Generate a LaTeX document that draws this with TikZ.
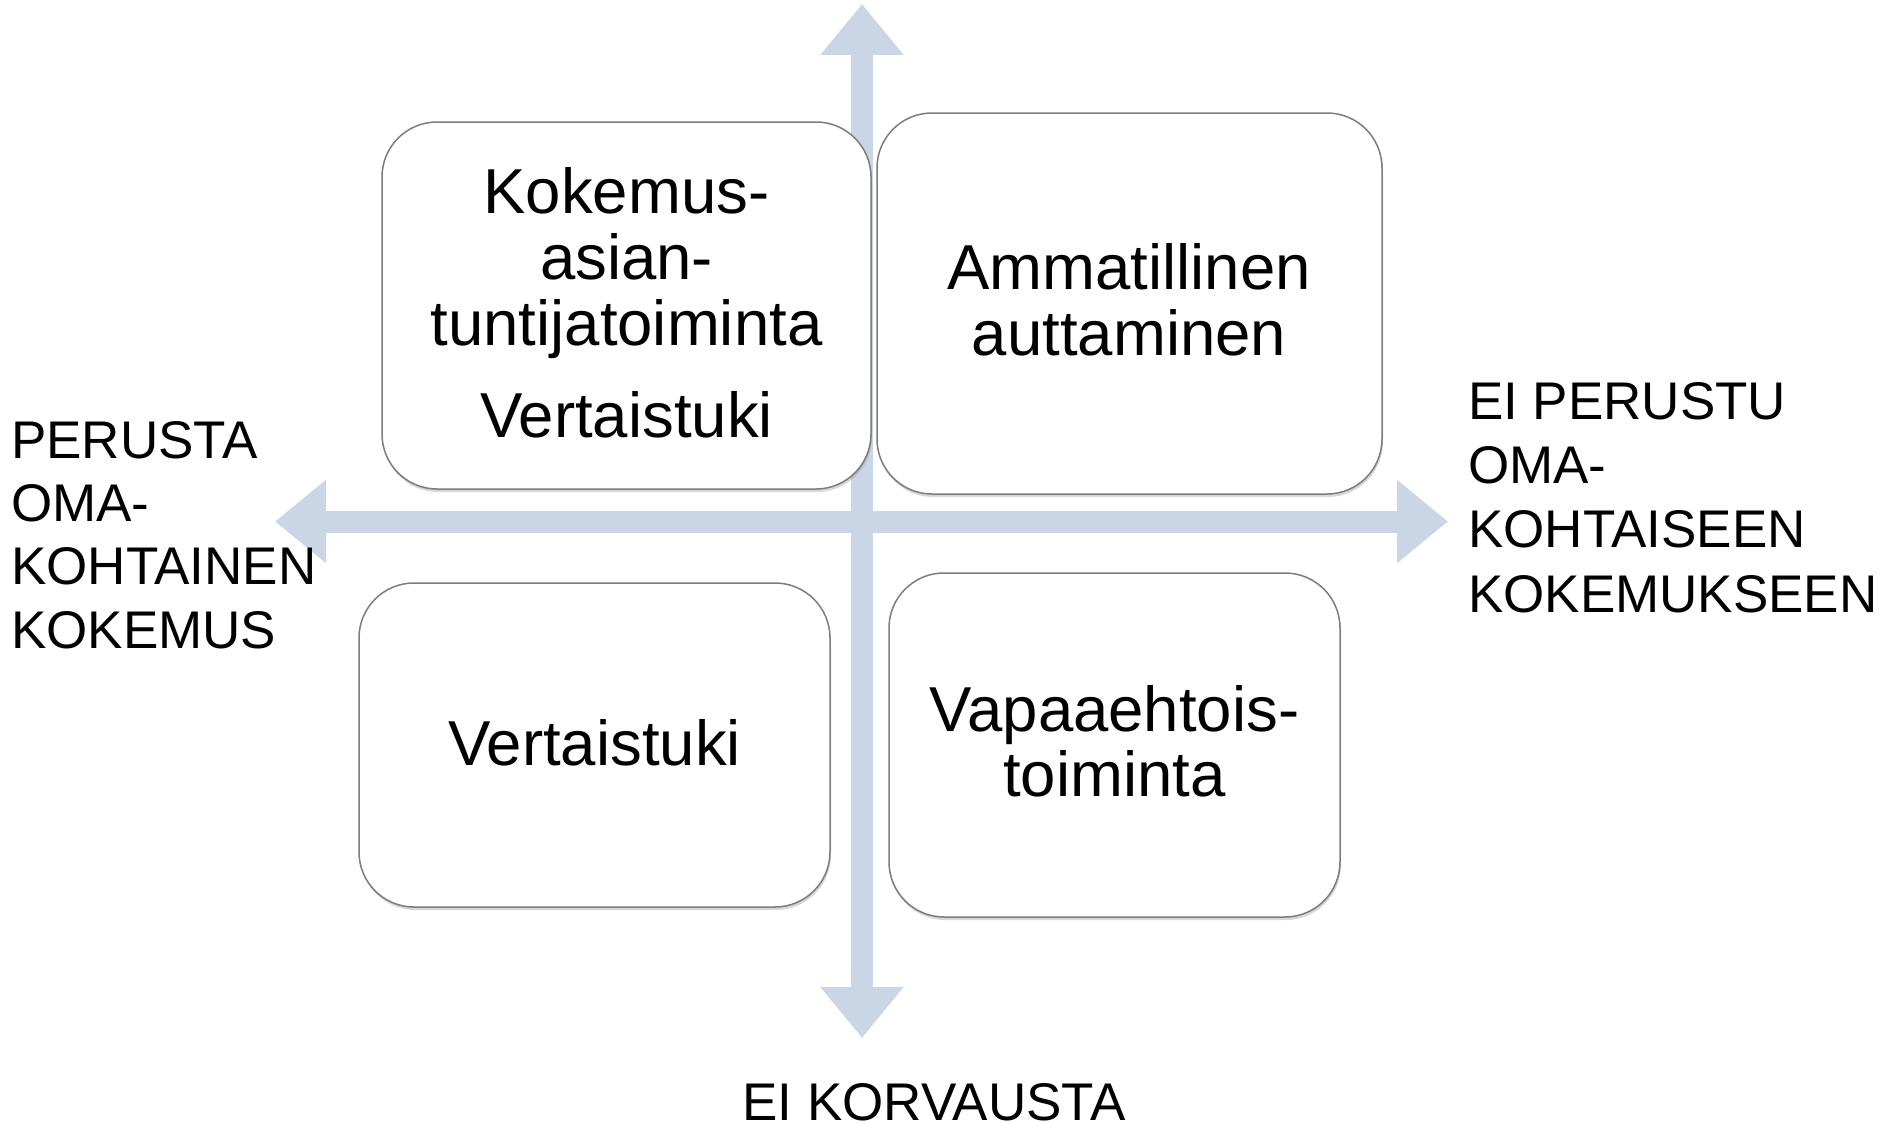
\documentclass[tikz,border=0pt]{standalone}
\usepackage{fontspec}
\setmainfont{Liberation Sans}
\usetikzlibrary{arrows.meta,shadows}
\definecolor{axisblue}{RGB}{202,214,230}
\definecolor{boxline}{RGB}{125,125,125}
\begin{document}
\begin{tikzpicture}[x=1pt,y=-1pt,
  axis/.style={draw=axisblue, line width=22pt,
    {Triangle[length=51pt,width=80pt]}-{Triangle[length=51pt,width=80pt]}},
  box/.style={draw=boxline, line width=1.5pt, fill=white, rounded corners=55pt,
    drop shadow={shadow xshift=1pt,shadow yshift=-3pt,opacity=0.3},
    inner sep=0pt},
  boxtext/.style={align=center, inner sep=0pt, anchor=north},
  axtext/.style={font=\fontsize{53}{63.3}\selectfont, inner sep=0pt},
]
\useasboundingbox[fill=white] (0,0) rectangle (1883,1124);

% axes
\coordinate (vtop) at (862,4);
\coordinate (vbot) at (862,1038);
\coordinate (hleft) at (275,521.5);
\coordinate (hright) at (1448,521.5);
\draw[axis] (vbot) -- (vtop);
\draw[axis] (hleft) -- (hright);

% boxes
\node[box, minimum width=489pt, minimum height=367pt] (tl) at (626.5,305.5) {};
\node[box, minimum width=505pt, minimum height=381pt] (tr) at (1129.5,303.5) {};
\node[box, minimum width=471pt, minimum height=324pt] (bl) at (594.5,745) {};
\node[box, minimum width=451pt, minimum height=344pt] (br) at (1114.5,745) {};

% box texts
\node[boxtext, font=\fontsize{63.5}{66}\selectfont] (tltext) at (626.5,167)
  {Kokemus-\\asian-\\tuntijatoiminta\\[26pt]Vertaistuki};
\node[boxtext, font=\fontsize{63.5}{66}\selectfont] (trtext) at (1129,243.5)
  {Ammatillinen\\auttaminen};
\node[inner sep=0pt, anchor=base, font=\fontsize{63.5}{66}\selectfont] (bltext) at (594.5,765)
  {Vertaistuki};
\node[boxtext, font=\fontsize{63.5}{65}\selectfont] (brtext) at (1114.5,685)
  {Vapaaehtois-\\toiminta};

% axis labels
\node[axtext, anchor=north west, align=left] (lefttext) at (11,421)
  {PERUSTA\\OMA-\\KOHTAINEN\\KOKEMUS};
\node[axtext, anchor=north west, align=left, font=\fontsize{53}{64.3}\selectfont] (righttext) at (1468,382)
  {EI PERUSTU\\OMA-\\KOHTAISEEN\\KOKEMUKSEEN};
\node[axtext, anchor=base] (bottomtext) at (934,1120) {EI KORVAUSTA};
\end{tikzpicture}
\end{document}
